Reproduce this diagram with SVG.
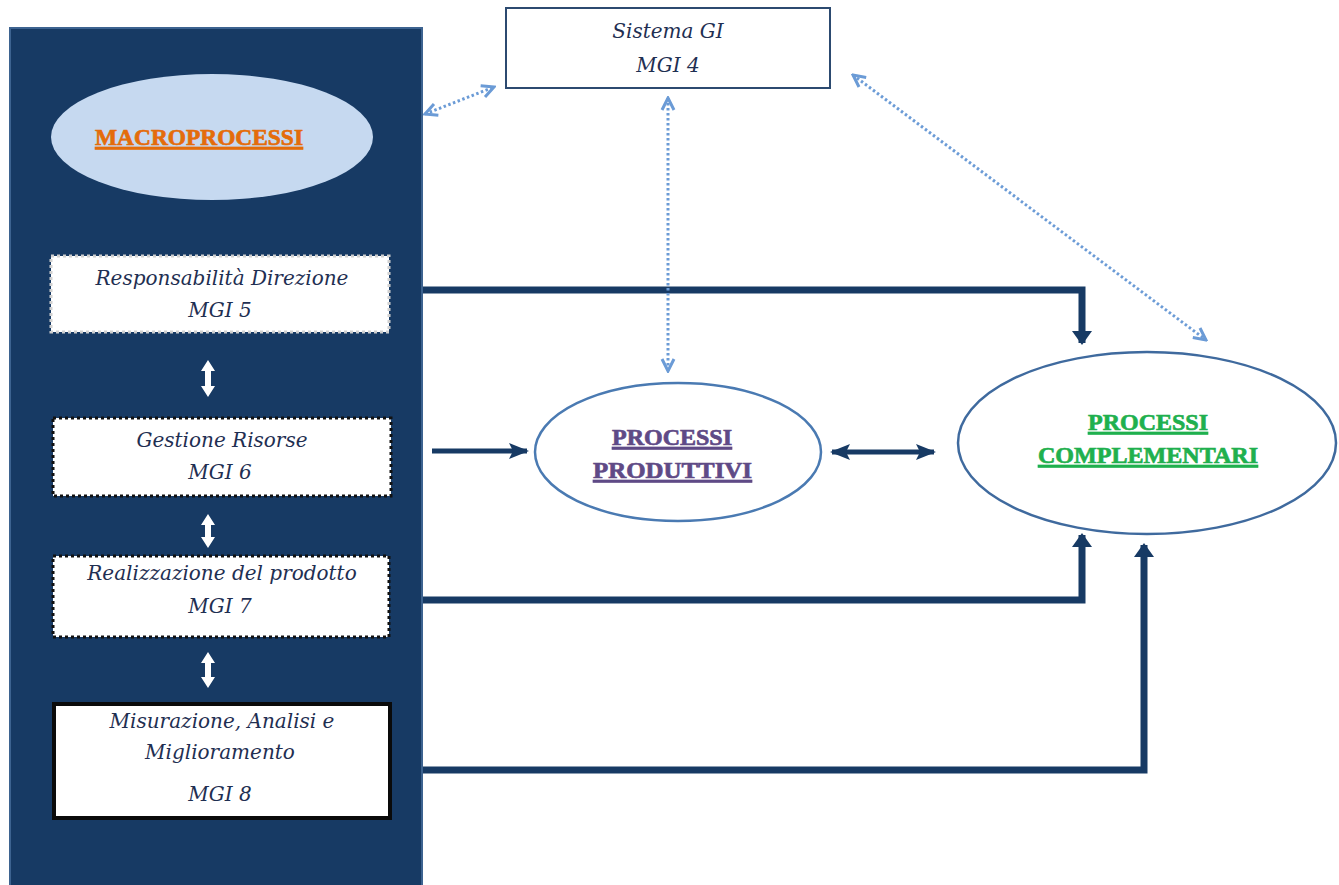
<svg xmlns="http://www.w3.org/2000/svg" width="1339" height="885" viewBox="0 0 1339 885">
<defs>
<style>
.box{fill:#ffffff;}
.itx{font-family:"DejaVu Serif","Liberation Serif",serif;font-style:italic;font-size:20px;fill:#1f2f52;text-anchor:middle;}
.hd{font-family:"Liberation Serif",serif;font-weight:bold;font-size:24px;text-decoration:underline;text-anchor:start;stroke-width:0.7;}
.thick{fill:none;stroke:#173a64;stroke-width:7;}
.dot{fill:none;stroke:#6b9bd6;stroke-width:3;stroke-dasharray:2.5 2.5;}
.warr{fill:#ffffff;}
</style>
<marker id="ah" markerUnits="userSpaceOnUse" viewBox="0 0 20 20" refX="18" refY="10" markerWidth="20" markerHeight="20" orient="auto-start-reverse">
<path d="M0,2 L20,10 L0,18 L4,10 Z" fill="#173a64"/>
</marker>
<marker id="ahb" markerUnits="userSpaceOnUse" viewBox="0 0 14 20" refX="12" refY="10" markerWidth="14" markerHeight="20" orient="auto-start-reverse">
<path d="M0,0 L14,10 L0,20 Z" fill="#173a64"/>
</marker>
<marker id="dh" markerUnits="userSpaceOnUse" viewBox="0 0 16 16" refX="14" refY="8" markerWidth="16" markerHeight="16" orient="auto-start-reverse">
<path d="M2,2 L14,8 L2,14" fill="none" stroke="#6b9bd6" stroke-width="3"/>
</marker>
</defs>
<rect width="1339" height="885" fill="#ffffff"/>

<g id="panel">
<rect x="10" y="28" width="412" height="870" fill="#173a64" stroke="#3d6390" stroke-width="2"/>
</g>

<g id="macroprocessi">
<ellipse cx="212" cy="137" rx="161" ry="63" fill="#c6d9f0"/>
<text class="hd" x="95" y="145" fill="#e46c0a" stroke="#e46c0a" textLength="208" lengthAdjust="spacingAndGlyphs">MACROPROCESSI</text>
</g>

<g id="mgi5">
<rect class="box" x="51" y="256" width="338" height="76" stroke="#d0d0d0" stroke-width="3" stroke-dasharray="3 3"/>
<text class="itx" x="222" y="285">Responsabilità Direzione</text>
<text class="itx" x="220" y="317">MGI 5</text>
</g>

<g id="mgi6">
<rect class="box" x="53" y="418" width="338" height="78" stroke="#111111" stroke-width="3" stroke-dasharray="3 3"/>
<text class="itx" x="222" y="447">Gestione Risorse</text>
<text class="itx" x="220" y="479">MGI 6</text>
</g>

<g id="mgi7">
<rect class="box" x="53" y="556" width="336" height="81" stroke="#111111" stroke-width="3" stroke-dasharray="3 3"/>
<text class="itx" x="222" y="580">Realizzazione del prodotto</text>
<text class="itx" x="220" y="613">MGI 7</text>
</g>

<g id="mgi8">
<rect class="box" x="54" y="704" width="336" height="114" stroke="#0a0a0a" stroke-width="4"/>
<text class="itx" x="222" y="728">Misurazione, Analisi e</text>
<text class="itx" x="220" y="759">Miglioramento</text>
<text class="itx" x="220" y="801">MGI 8</text>
</g>

<g id="sistema-gi">
<rect x="506" y="8" width="324" height="80" fill="#ffffff" stroke="#2c4a70" stroke-width="2"/>
<text class="itx" x="668" y="38">Sistema GI</text>
<text class="itx" x="668" y="72">MGI 4</text>
</g>

<g id="processi-produttivi">
<ellipse cx="678" cy="452" rx="143" ry="69" fill="#ffffff" stroke="#4a7ab2" stroke-width="2.5"/>
<text class="hd" x="612" y="445" fill="#5f4a86" stroke="#5f4a86" textLength="120" lengthAdjust="spacingAndGlyphs">PROCESSI</text>
<text class="hd" x="593" y="478" fill="#5f4a86" stroke="#5f4a86" textLength="159" lengthAdjust="spacingAndGlyphs">PRODUTTIVI</text>
</g>

<g id="processi-complementari">
<ellipse cx="1147" cy="443" rx="189" ry="91" fill="#ffffff" stroke="#3f6a9e" stroke-width="2.5"/>
<text class="hd" x="1088" y="430" fill="#1fb04e" stroke="#1fb04e" textLength="120" lengthAdjust="spacingAndGlyphs">PROCESSI</text>
<text class="hd" x="1038" y="463" fill="#1fb04e" stroke="#1fb04e" textLength="220" lengthAdjust="spacingAndGlyphs">COMPLEMENTARI</text>
</g>

<g id="connectors">
<path class="warr" d="M208,360 L215,371 L211,371 L211,386 L215,386 L208,397 L201,386 L205,386 L205,371 L201,371 Z"/>
<path class="warr" d="M208,514 L215,525 L211,525 L211,537 L215,537 L208,548 L201,537 L205,537 L205,525 L201,525 Z"/>
<path class="warr" d="M208,652 L215,663 L211,663 L211,677 L215,677 L208,688 L201,677 L205,677 L205,663 L201,663 Z"/>

<path class="thick" d="M423,290 L1082,290 L1082,343" marker-end="url(#ahb)"/>
<path class="thick" d="M423,600 L1082,600 L1082,535" marker-end="url(#ahb)"/>
<path class="thick" d="M423,770 L1144,770 L1144,545" marker-end="url(#ahb)"/>
<line x1="432" y1="451" x2="527" y2="451" stroke="#173a64" stroke-width="5" marker-end="url(#ah)"/>
<line x1="832" y1="452" x2="934" y2="452" stroke="#173a64" stroke-width="5" marker-start="url(#ah)" marker-end="url(#ah)"/>

<line class="dot" x1="425" y1="114" x2="494" y2="87" marker-start="url(#dh)" marker-end="url(#dh)"/>
<line class="dot" x1="668" y1="98" x2="668" y2="371" marker-start="url(#dh)" marker-end="url(#dh)"/>
<line class="dot" x1="853" y1="75" x2="1206" y2="340" marker-start="url(#dh)" marker-end="url(#dh)"/>
</g>
</svg>
